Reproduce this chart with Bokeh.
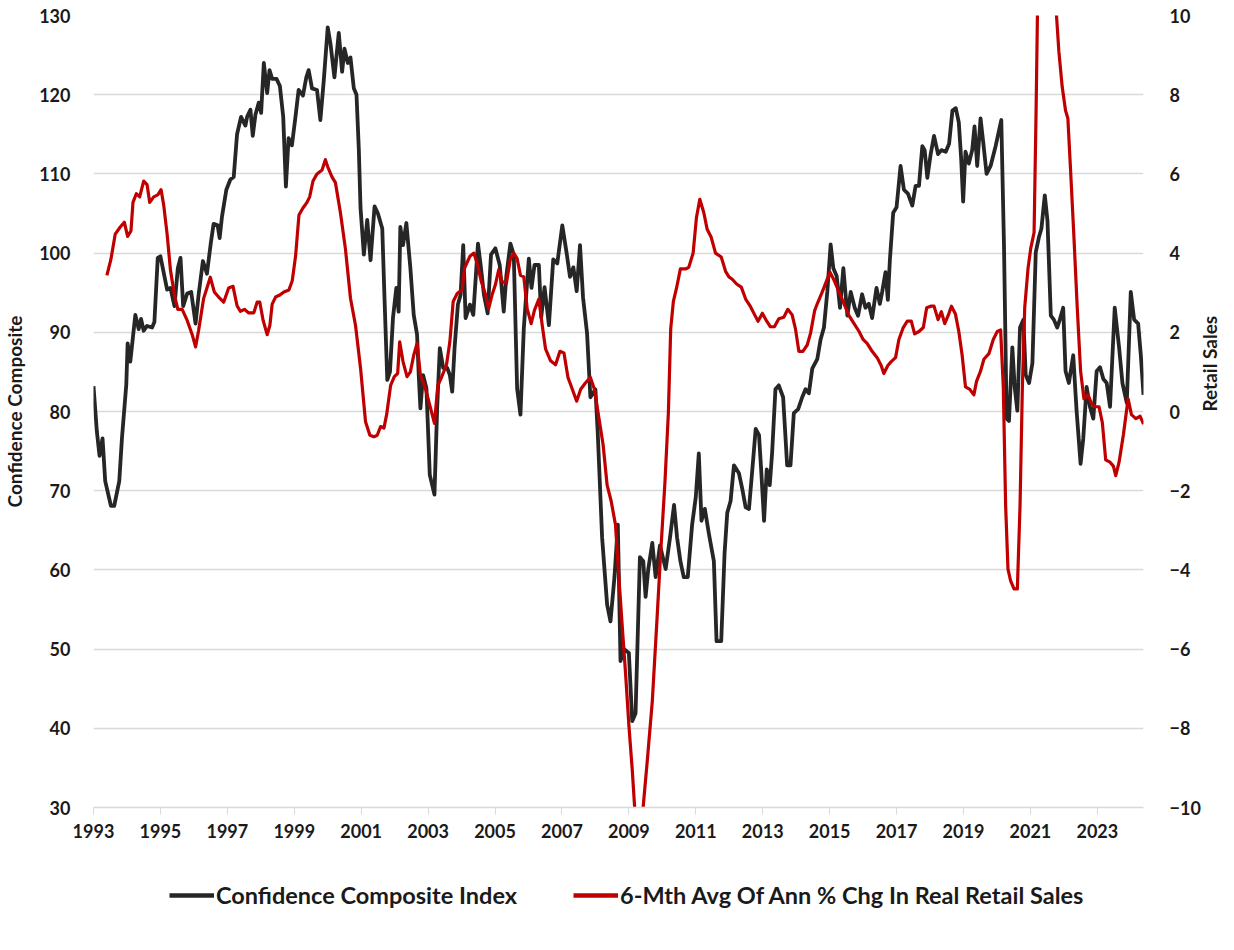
import math
from bokeh.plotting import figure
from bokeh.layouts import column
from bokeh.models import Range1d, LinearAxis, FixedTicker, Legend, LegendItem
from bokeh.embed import file_html
from bokeh.resources import INLINE

# ---------------- data ----------------
conf_years = [
    1993.00, 1993.10, 1993.18, 1993.27, 1993.35, 1993.52, 1993.62, 1993.77, 1993.85, 1993.98,
    1994.02, 1994.10, 1994.25, 1994.35, 1994.42, 1994.50, 1994.60, 1994.75, 1994.82, 1994.92,
    1995.00, 1995.20, 1995.30, 1995.42, 1995.52, 1995.60, 1995.68, 1995.80, 1995.92, 1996.05,
    1996.14, 1996.27, 1996.39, 1996.51, 1996.59, 1996.71, 1996.77, 1996.84, 1996.97, 1997.09,
    1997.19, 1997.29, 1997.41, 1997.54, 1997.59, 1997.69, 1997.76, 1997.84, 1997.94, 1998.01,
    1998.09, 1998.19, 1998.26, 1998.34, 1998.47, 1998.57, 1998.67, 1998.75, 1998.83, 1998.93,
    1999.03, 1999.13, 1999.26, 1999.36, 1999.43, 1999.53, 1999.68, 1999.78, 1999.88, 2000.00,
    2000.08, 2000.20, 2000.33, 2000.43, 2000.50, 2000.60, 2000.68, 2000.78, 2000.86, 2000.93,
    2000.98,
    2001.08, 2001.18, 2001.28, 2001.40, 2001.50, 2001.63, 2001.70, 2001.78, 2001.86, 2001.95,
    2002.05, 2002.12, 2002.17, 2002.25, 2002.35, 2002.47, 2002.57, 2002.67, 2002.72, 2002.77,
    2002.85, 2002.95, 2003.05, 2003.19, 2003.27, 2003.35, 2003.45, 2003.57, 2003.65, 2003.72,
    2003.79, 2003.89, 2003.97, 2004.05, 2004.12, 2004.25, 2004.35, 2004.49, 2004.57, 2004.67,
    2004.78, 2004.88, 2005.01, 2005.14, 2005.26, 2005.34, 2005.46, 2005.56, 2005.66, 2005.76,
    2005.86, 2006.01, 2006.09, 2006.18,
    2006.31, 2006.38, 2006.48, 2006.61, 2006.74, 2006.86, 2007.01, 2007.14, 2007.24, 2007.34,
    2007.44, 2007.54, 2007.63, 2007.75, 2007.85, 2008.00, 2008.07, 2008.20, 2008.35, 2008.45,
    2008.57, 2008.67, 2008.75, 2008.85, 2009.00, 2009.10, 2009.20, 2009.33, 2009.43, 2009.50,
    2009.58, 2009.70, 2009.80, 2009.93, 2010.10, 2010.23, 2010.35, 2010.44, 2010.54, 2010.64,
    2010.76, 2010.89, 2011.00, 2011.09, 2011.17, 2011.27, 2011.39, 2011.54, 2011.62, 2011.76,
    2011.86, 2011.94, 2012.04, 2012.14, 2012.29, 2012.39, 2012.49, 2012.59, 2012.72, 2012.79,
    2012.89, 2012.96, 2013.04, 2013.12, 2013.21, 2013.28, 2013.38, 2013.48, 2013.61, 2013.73,
    2013.83, 2013.93, 2014.06, 2014.18, 2014.28, 2014.38, 2014.48,
    2014.63, 2014.73, 2014.83, 2014.93, 2015.03, 2015.11, 2015.21, 2015.31, 2015.41, 2015.53,
    2015.63, 2015.75, 2015.85, 2015.97, 2016.07, 2016.17, 2016.27, 2016.40, 2016.50, 2016.57,
    2016.67, 2016.74, 2016.80, 2016.90, 2017.00, 2017.12, 2017.22, 2017.34, 2017.47, 2017.57,
    2017.67, 2017.77, 2017.84, 2017.92, 2018.02, 2018.12, 2018.24, 2018.34, 2018.47, 2018.57,
    2018.67, 2018.77, 2018.86, 2018.93, 2018.99, 2019.06, 2019.16, 2019.26, 2019.33, 2019.41,
    2019.51, 2019.59, 2019.69, 2019.81, 2019.96, 2020.13, 2020.21, 2020.29, 2020.36, 2020.46,
    2020.53, 2020.61, 2020.69, 2020.79, 2020.86, 2020.96, 2021.06, 2021.16, 2021.26, 2021.33,
    2021.43, 2021.51, 2021.61, 2021.70, 2021.80, 2021.88, 2021.98, 2022.05, 2022.15, 2022.28,
    2022.38, 2022.50, 2022.58, 2022.68, 2022.78, 2022.88, 2022.98, 2023.08, 2023.18, 2023.28,
    2023.38, 2023.52, 2023.65, 2023.75, 2023.88, 2024.00, 2024.10, 2024.22, 2024.30, 2024.38,
]
conf_values = [
    83.2, 77.5, 74.4, 76.6, 71.2, 68.1, 68.1, 71.2, 76.6, 83.4,
    88.6, 86.3, 92.2, 90.4, 91.7, 90.2, 90.8, 90.6, 91.3, 99.4,
    99.6, 95.4, 95.6, 93.3, 98.1, 99.4, 93.3, 94.9, 95.1, 91.1,
    94.7, 99.0, 97.4, 101.4, 103.7, 103.5, 101.9, 104.6, 108.0, 109.3,
    109.6, 115.0, 117.2, 116.1, 117.2, 118.1, 114.8, 117.5, 119.0, 117.7,
    124.0, 120.2, 123.1, 122.0, 122.0, 121.1, 117.2, 108.4, 114.5, 113.6,
    117.0, 120.6, 119.9, 122.2, 123.1, 120.8, 120.6, 116.8, 121.7, 128.5,
    126.5, 122.2, 127.8, 122.9, 125.8, 124.0, 124.7, 120.8, 120.0, 113.0,
    105.7,
    99.8, 104.2, 99.1, 105.9, 105.0, 103.1, 93.9, 84.0, 85.0, 91.8,
    95.6, 92.6, 103.3, 101.0, 103.8, 98.1, 92.2, 89.7, 84.6, 80.4,
    84.6, 82.9, 72.0, 69.5, 80.4, 88.0, 85.5, 85.5, 84.6, 82.5,
    88.0, 93.5, 94.7, 101.0, 91.8, 93.5, 92.2, 101.2, 98.5, 94.7,
    92.4, 99.8, 100.6, 98.5, 92.6, 97.2, 101.2, 99.8, 82.9, 79.6,
    90.5, 99.3, 95.6, 98.5,
    98.5, 91.9, 95.7, 90.9, 99.2, 98.7, 103.5, 100.0, 97.0, 98.2,
    95.2, 101.0, 94.4, 89.9, 81.8, 82.8, 77.3, 64.1, 55.6, 53.5,
    59.1, 65.7, 48.5, 50.0, 49.5, 40.9, 41.9, 61.6, 61.1, 56.6,
    60.1, 63.4, 59.1, 63.1, 60.1, 64.1, 68.2, 64.1, 61.1, 59.1,
    59.1, 65.7, 69.2, 74.7, 66.2, 67.7, 64.6, 61.1, 51.0, 51.0,
    62.1, 67.2, 68.7, 73.2, 72.2, 70.2, 67.9, 67.7, 74.2, 77.8,
    77.0, 72.2, 66.2, 72.7, 70.7, 74.7, 82.8, 83.3, 81.8, 73.2,
    73.2, 79.8, 80.3, 81.8, 82.8, 82.3, 85.4,
    86.6, 89.1, 90.6, 95.1, 101.1, 98.1, 97.1, 93.1, 98.1, 92.1,
    95.1, 93.1, 92.1, 94.8, 93.1, 93.6, 91.8, 95.6, 93.6, 95.1,
    97.6, 94.1, 99.1, 105.1, 105.8, 111.0, 108.0, 107.5, 106.0, 108.5,
    108.5, 113.5, 113.0, 109.5, 112.5, 114.8, 112.5, 113.0, 112.8, 113.8,
    118.0, 118.3, 116.5, 112.0, 106.5, 112.8, 111.3, 113.0, 116.0, 111.0,
    117.0, 114.0, 110.0, 111.0, 113.5, 116.8, 101.1, 79.1, 78.8, 88.1,
    83.1, 80.1, 90.6, 91.6, 84.6, 83.6, 86.1, 100.1, 102.1, 103.1,
    107.3, 104.1, 92.1, 91.6, 90.6, 91.6, 93.1, 85.1, 83.6, 87.1,
    80.1, 73.4, 76.6, 83.1, 80.6, 79.1, 85.1, 85.6, 84.1, 83.6,
    80.6, 93.1, 88.1, 83.6, 81.1, 95.1, 91.6, 91.1, 87.1, 82.1,
]

retail_years = [
    1993.40, 1993.52, 1993.65, 1993.80, 1993.92, 1994.02, 1994.12, 1994.18, 1994.28, 1994.38,
    1994.50, 1994.60, 1994.68, 1994.80, 1994.92, 1995.02, 1995.10, 1995.20, 1995.30, 1995.42,
    1995.52, 1995.65, 1995.80, 1995.95, 1996.05, 1996.14, 1996.29, 1996.39, 1996.49, 1996.61,
    1996.74, 1996.89, 1997.04, 1997.17, 1997.29, 1997.39, 1997.51, 1997.64, 1997.79, 1997.89,
    1997.97, 1998.07, 1998.19, 1998.27, 1998.34, 1998.44, 1998.57, 1998.69, 1998.84, 1998.94,
    1999.04, 1999.14, 1999.26, 1999.38, 1999.46, 1999.56, 1999.68, 1999.83, 1999.93, 2000.00,
    2000.13, 2000.23, 2000.38, 2000.53,
    2000.68, 2000.83, 2000.98, 2001.13, 2001.26, 2001.38, 2001.48, 2001.58, 2001.68, 2001.76,
    2001.88, 2001.99, 2002.09, 2002.15, 2002.25, 2002.37, 2002.47, 2002.57, 2002.67, 2002.77,
    2002.92, 2003.05, 2003.19, 2003.29, 2003.39, 2003.55, 2003.65, 2003.75, 2003.87, 2004.02,
    2004.09, 2004.25, 2004.37, 2004.49, 2004.59, 2004.72, 2004.81, 2004.91, 2005.01, 2005.11,
    2005.21, 2005.34, 2005.46, 2005.56, 2005.66, 2005.76, 2005.86, 2005.96, 2006.08, 2006.18,
    2006.31, 2006.41, 2006.51, 2006.66, 2006.81, 2006.94, 2007.06, 2007.18, 2007.31, 2007.44,
    2007.56, 2007.70, 2007.85, 2007.97, 2008.10, 2008.23, 2008.35, 2008.47, 2008.60, 2008.70,
    2008.80, 2008.90, 2009.00, 2009.10, 2009.17, 2009.30, 2009.43, 2009.55, 2009.70, 2009.83,
    2009.95, 2010.08, 2010.18, 2010.25, 2010.33, 2010.42, 2010.54, 2010.69, 2010.79, 2010.92,
    2011.02, 2011.12, 2011.24, 2011.34, 2011.46, 2011.59, 2011.76, 2011.89, 2011.99, 2012.09,
    2012.22, 2012.36, 2012.49, 2012.64, 2012.76, 2012.86, 2012.99, 2013.12, 2013.23, 2013.35,
    2013.48, 2013.63, 2013.75, 2013.88, 2013.98, 2014.08, 2014.20, 2014.33, 2014.43, 2014.55,
    2014.63, 2014.78, 2015.01, 2015.13, 2015.28, 2015.43, 2015.58, 2015.73, 2015.88, 2016.00,
    2016.12, 2016.27, 2016.42, 2016.54, 2016.62, 2016.74, 2016.84, 2016.97, 2017.07, 2017.20,
    2017.32, 2017.44, 2017.54, 2017.67, 2017.80, 2017.90, 2018.02, 2018.12, 2018.24, 2018.34,
    2018.44, 2018.54, 2018.64, 2018.76, 2018.86, 2018.96, 2019.06, 2019.19, 2019.31, 2019.39,
    2019.51, 2019.61, 2019.76, 2019.89, 2020.01, 2020.11, 2020.19, 2020.26, 2020.33, 2020.41,
    2020.51, 2020.61, 2020.69, 2020.76, 2020.83, 2020.93, 2021.01, 2021.11, 2021.17, 2021.21,
    2021.30, 2021.45, 2021.60, 2021.72, 2021.78, 2021.85, 2021.95, 2022.05, 2022.12, 2022.20,
    2022.30, 2022.40, 2022.50, 2022.60, 2022.72, 2022.82, 2022.92, 2023.05, 2023.15, 2023.25,
    2023.38, 2023.48, 2023.55, 2023.65, 2023.78, 2023.92, 2024.02, 2024.15, 2024.28, 2024.38,
]
retail_values = [
    3.44, 3.84, 4.48, 4.66, 4.78, 4.42, 4.56, 5.28, 5.50, 5.42,
    5.82, 5.73, 5.28, 5.42, 5.47, 5.60, 5.20, 4.48, 3.57, 2.94,
    2.58, 2.58, 2.30, 1.94, 1.63, 2.04, 2.85, 3.12, 3.39, 3.02,
    2.89, 2.76, 3.12, 3.16, 2.67, 2.53, 2.58, 2.49, 2.49, 2.76,
    2.76, 2.30, 1.94, 2.17, 2.71, 2.89, 2.94, 3.02, 3.07, 3.30,
    3.93, 4.96, 5.14, 5.28, 5.42, 5.82, 6.00, 6.10, 6.36, 6.18,
    5.92, 5.78, 5.02, 4.10,
    2.86, 2.18, 1.10, -0.26, -0.60, -0.64, -0.60, -0.38, -0.42, -0.08,
    0.66, 0.88, 0.96, 1.76, 1.26, 0.88, 1.00, 1.42, 1.72, 0.92,
    0.58, 0.16, -0.30, 0.66, 0.84, 1.18, 1.76, 2.78, 2.98, 3.08,
    3.62, 3.92, 4.00, 3.66, 3.28, 2.94, 2.60, 2.94, 3.20, 3.58,
    3.28, 3.24, 3.86, 4.00, 3.86, 3.44, 3.40, 2.60, 2.22, 2.56,
    2.84, 2.18, 1.58, 1.28, 1.18, 1.52, 1.48, 0.86, 0.56, 0.26,
    0.56, 0.72, 0.86, 0.56, -0.14, -0.84, -1.86, -2.26, -2.86, -4.18,
    -5.40, -6.60, -7.92, -9.04, -9.96, -11.5, -9.96, -8.82, -7.32, -5.40,
    -3.58, -1.76, -0.04, 2.08, 2.78, 3.10, 3.60, 3.60, 3.64, 4.00,
    4.90, 5.36, 5.02, 4.60, 4.40, 4.00, 3.90, 3.54, 3.40, 3.34,
    3.22, 3.14, 2.84, 2.64, 2.44, 2.28, 2.48, 2.28, 2.14, 2.14,
    2.34, 2.38, 2.58, 2.44, 2.08, 1.52, 1.52, 1.68, 1.98, 2.54,
    2.72, 3.02, 3.52, 3.32, 3.02, 2.72, 2.42, 2.22, 2.02, 1.82,
    1.72, 1.52, 1.36, 1.16, 0.96, 1.16, 1.26, 1.36, 1.82, 2.12,
    2.28, 2.28, 1.96, 2.02, 2.12, 2.62, 2.66, 2.66, 2.32, 2.52,
    2.22, 2.42, 2.66, 2.46, 2.02, 1.42, 0.62, 0.56, 0.42, 0.76,
    1.02, 1.32, 1.46, 1.82, 2.02, 2.06, 0.62, -2.38, -3.98, -4.28,
    -4.48, -4.48, -2.38, 0.62, 2.62, 3.62, 4.12, 4.52, 7.60, 10.0,
    16.0, 20.0, 17.0, 12.0, 10.0, 9.10, 8.20, 7.60, 7.40, 6.10,
    4.42, 2.62, 1.02, 0.32, 0.42, 0.22, 0.12, 0.12, -0.28, -1.22,
    -1.28, -1.38, -1.62, -1.28, -0.58, 0.32, -0.08, -0.18, -0.12, -0.32,
]

x_ticks = list(range(1993, 2024, 2))
left_ticks = list(range(30, 131, 10))
right_ticks = list(range(-10, 11, 2))

conf_label = "Confidence Composite Index"
retail_label = "6-Mth Avg Of Ann % Chg In Real Retail Sales"

# ---------------- styling ----------------
FONT = "Lato"
TEXT = "#1a1a1a"
GRID = "#d9d9d9"
BLACK = "#262626"
RED = "#C00000"

p = figure(
    frame_width=1050, frame_height=792,
    output_backend="svg", toolbar_location=None,
    x_range=Range1d(1993, 2024.38), y_range=Range1d(30, 130),
    min_border_left=90, min_border_right=78, min_border_top=15, min_border_bottom=50,
)
p.extra_y_ranges = {"right": Range1d(-10, 10)}
p.outline_line_color = None
p.background_fill_color = "white"
p.border_fill_color = "white"

p.xgrid.visible = False
p.ygrid.grid_line_color = GRID
p.ygrid.grid_line_width = 1.3

# x axis
xa = p.xaxis[0]
xa.ticker = FixedTicker(ticks=x_ticks)
xa.axis_line_color = GRID
xa.axis_line_width = 1.3
xa.major_tick_line_color = GRID
xa.major_tick_in = 0
xa.major_tick_out = 7
xa.minor_tick_line_color = None
xa.major_label_standoff = 9

# left axis
ya = p.yaxis[0]
ya.ticker = FixedTicker(ticks=left_ticks)
ya.axis_line_color = None
ya.major_tick_line_color = None
ya.minor_tick_line_color = None
ya.major_label_standoff = 17
ya.axis_label = "Confidence Composite"
ya.axis_label_standoff = 10

# right axis
ra = LinearAxis(y_range_name="right", ticker=FixedTicker(ticks=right_ticks))
ra.axis_line_color = None
ra.major_tick_line_color = None
ra.minor_tick_line_color = None
ra.major_label_standoff = 20
ra.axis_label = "Retail Sales"
ra.axis_label_standoff = 6
try:
    ra.axis_label_orientation = math.pi / 2
except Exception:
    pass
p.add_layout(ra, "right")

for ax in (xa, ya, ra):
    ax.major_label_text_font = FONT
    ax.major_label_text_font_style = "bold"
    ax.major_label_text_font_size = "18px"
    ax.major_label_text_color = TEXT
    ax.axis_label_text_font = FONT
    ax.axis_label_text_font_style = "bold"
    ax.axis_label_text_font_size = "19px"
    ax.axis_label_text_color = TEXT

p.line(conf_years, conf_values, line_color=BLACK, line_width=3.8, line_join="round")
p.line(retail_years, retail_values, y_range_name="right", line_color=RED,
       line_width=3.2, line_join="round")

# ---------------- legend strip below the chart ----------------
lf = figure(
    width=1218, height=76,
    output_backend="svg", toolbar_location=None,
    x_range=Range1d(0, 1), y_range=Range1d(0, 1),
    min_border_left=0, min_border_right=0, min_border_top=0, min_border_bottom=0,
)
lf.axis.visible = False
lf.grid.visible = False
lf.outline_line_color = None
lf.background_fill_color = "white"
lf.border_fill_color = "white"
# the same series, lying outside this strip's view: only their legend swatches show
lc = lf.line(conf_years, conf_values, line_color=BLACK, line_width=4.5)
lr = lf.line(retail_years, retail_values, line_color=RED, line_width=4.5)

legend = Legend(
    items=[LegendItem(label=conf_label, renderers=[lc]),
           LegendItem(label=retail_label, renderers=[lr])],
    orientation="horizontal", location=(76, 24),
    border_line_color=None, background_fill_alpha=0,
    label_text_font=FONT, label_text_font_style="bold",
    label_text_font_size="23.5px", label_text_color=TEXT,
    glyph_width=45, glyph_height=20, label_standoff=2, spacing=56,
    margin=0, padding=6,
)
lf.add_layout(legend, "center")

layout = column(p, lf, spacing=0)
open("out.html", "w").write(file_html(layout, INLINE))
